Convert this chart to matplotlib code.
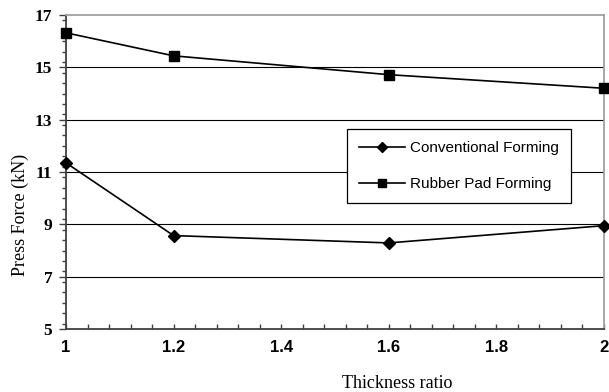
import matplotlib
matplotlib.use("Agg")
import matplotlib.pyplot as plt
from matplotlib.ticker import MultipleLocator

thickness_ratio = [1.0, 1.2, 1.6, 2.0]
conventional = [11.35, 8.57, 8.29, 8.95]
rubber_pad = [16.32, 15.44, 14.72, 14.2]

x_ticks = [1, 1.2, 1.4, 1.6, 1.8, 2]
x_tick_labels = ["1", "1.2", "1.4", "1.6", "1.8", "2"]
y_ticks = [5, 7, 9, 11, 13, 15, 17]

fig = plt.figure(figsize=(6.09, 3.92), dpi=100)
ax = fig.add_axes([0.1084, 0.1607, 0.8834, 0.801])

ax.set_xlim(1, 2)
ax.set_ylim(5, 17)

# horizontal gridlines
for yv in y_ticks[1:-1]:
    ax.axhline(yv, color="black", lw=0.8, zorder=1)

ax.plot(thickness_ratio, conventional, color="black", lw=1.2, marker="D",
        markersize=6, label="Conventional Forming", zorder=3, clip_on=False)
ax.plot(thickness_ratio, rubber_pad, color="black", lw=1.2, marker="s",
        markersize=7.5, label="Rubber Pad Forming", zorder=3, clip_on=False)

ax.set_xticks(x_ticks)
ax.set_xticklabels(x_tick_labels, fontfamily="Liberation Sans", fontweight="bold", fontsize=12)
ax.xaxis.set_minor_locator(MultipleLocator(0.04))
ax.tick_params(axis="x", which="both", direction="in", length=3.5, width=1, color="#404040", pad=8)

ax.set_yticks(y_ticks)
ax.set_yticklabels([str(v) for v in y_ticks], fontfamily="Liberation Serif",
                   fontweight="bold", fontsize=12.5)
ax.yaxis.set_minor_locator(MultipleLocator(0.4))
ax.tick_params(axis="y", which="major", direction="out", length=5, width=1, color="#404040", pad=5)
ax.tick_params(axis="y", which="minor", direction="out", length=3, width=1, color="#404040")

for side in ("left", "bottom"):
    ax.spines[side].set_color("#404040")
    ax.spines[side].set_linewidth(1.3)
for side in ("top", "right"):
    ax.spines[side].set_color("#a0a0a0")
    ax.spines[side].set_linewidth(1.3)

# axis titles sit off-centre, below / right of the plot middle
fig.text(397 / 609, 1 - 383 / 392, "Thickness ratio", fontfamily="Liberation Serif",
         fontsize=13, ha="center", va="center")
fig.text(20 / 609, 1 - 215 / 392, "Press Force (kN)", fontfamily="Liberation Serif",
         fontsize=13, ha="center", va="center", rotation=90)

leg = ax.legend(loc="upper left", bbox_to_anchor=(0.522, 0.637), frameon=True, fancybox=False,
                edgecolor="black", framealpha=1, borderpad=0.8, labelspacing=1.42,
                handlelength=3.0, handletextpad=0.35, borderaxespad=0,
                prop={"family": "Liberation Sans", "size": 11})
leg.get_frame().set_linewidth(0.9)
for h in leg.legend_handles:
    h.set_markersize(5.5)

fig.savefig("out.png", dpi=100)
